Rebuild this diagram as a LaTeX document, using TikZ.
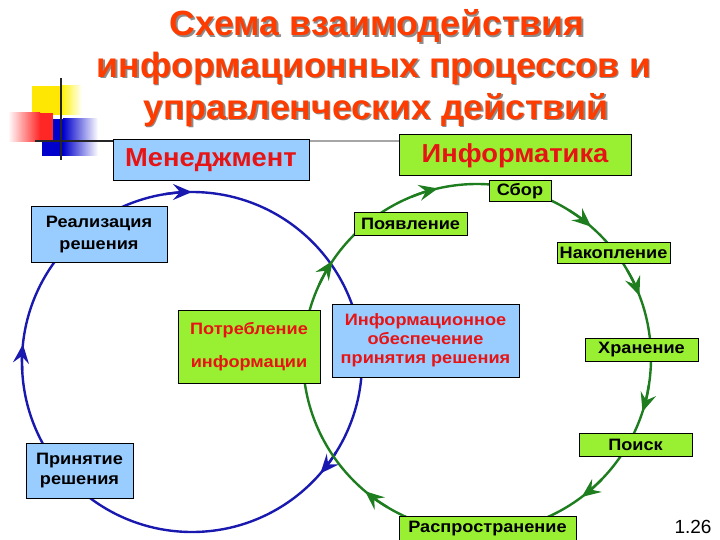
\documentclass[tikz,border=0pt]{standalone}
\usepackage{fontspec}
\setmainfont{Liberation Sans}
\newfontfamily\lblfont[FakeStretch=1.1]{Liberation Sans}
\newfontfamily\hdfont[FakeStretch=1.05]{Liberation Sans}
\newfontfamily\ttlfont[FakeStretch=1.02]{Liberation Sans}
\usetikzlibrary{arrows.meta}
\definecolor{titlered}{RGB}{255,60,0}
\definecolor{txtred}{RGB}{230,20,20}
\definecolor{boxblue}{RGB}{153,204,255}
\definecolor{boxgreen}{RGB}{153,240,51}
\definecolor{cblue}{RGB}{25,25,175}
\definecolor{cgreen}{RGB}{30,125,30}
\tikzset{
  box/.style={draw=black, line width=1pt, inner sep=0pt, align=center, font=\lblfont\bfseries\fontsize{16.5}{20}\selectfont},
  bluebox/.style={box, fill=boxblue},
  greenbox/.style={box, fill=boxgreen},
  hdbox/.style={text=txtred, font=\hdfont\bfseries\fontsize{26}{30}\selectfont},
  ring/.style={line width=2.4pt, line cap=round},
  ringtip/.tip={Stealth[length=19pt, width=16pt, inset=7pt]},
  titletxt/.style={font=\ttlfont\bfseries\fontsize{35}{40}\selectfont, text=titlered},
}
\begin{document}
\begin{tikzpicture}[x=1pt,y=-1pt]
\useasboundingbox (0,0) rectangle (720,540);
% decoration
\fill[yellow!90!orange] (32,86) rectangle (61,115);
\shade[left color=yellow!90!orange, right color=white] (61,86) rectangle (82,115);
\shade[left color=white, right color=red!85] (8,113) rectangle (40,142);
\fill[red!85] (40,113) rectangle (53,142);
\fill[blue!80!black] (42,119) rectangle (63,156);
\shade[left color=blue!80!black, right color=white] (63,119) rectangle (98,156);
\fill[red!85] (40,119) rectangle (53,142);
\draw[line width=2pt, black!85] (61,78) -- (61,160);
\draw[line width=2pt, black!85] (35,141) -- (113,141);
\draw[line width=2pt, black!35] (113,141) -- (400,141);
% title
\foreach \dx/\col in {1.5/black!45, 0/titlered}{
  \node[titletxt, text=\col] at (377+\dx,26+\dx) {Схема взаимодействия};
  \node[titletxt, text=\col] at (374+\dx,68+\dx) {информационных процессов и};
  \node[titletxt, text=\col] at (376+\dx,110+\dx) {управленческих действий};
}
% circles
\coordinate (bc) at (192,362);
\coordinate (gc) at (477,358);
\draw[ring, cblue] (bc) circle[radius=170];
\foreach \a in {270, 41, 186}{
  \draw[ring, cblue, -{ringtip}] (bc) ++(\a-9:170) arc[start angle=\a-9, end angle=\a, radius=170];
}
\draw[ring, cgreen] (gc) circle[radius=174];
\foreach \a in {257, 311, 339, 18, 53, 130, 214}{
  \draw[ring, cgreen, -{ringtip}] (gc) ++(\a-9:174) arc[start angle=\a-9, end angle=\a, radius=174];
}
% boxes
\node[bluebox, hdbox, minimum width=196pt, minimum height=41pt] (mgmt) at (211,160.5) {Менеджмент};
\node[greenbox, hdbox, minimum width=232pt, minimum height=41pt] (inf) at (515,155.5) {Информатика};
\node[greenbox, minimum width=62pt, minimum height=21pt] (sbor) at (520,191.5) {Сбор};
\node[greenbox, minimum width=113pt, minimum height=22pt] (poyav) at (410.5,224) {Появление};
\node[greenbox, minimum width=113pt, minimum height=21pt] (nakop) at (613.5,252.5) {Накопление};
\node[bluebox, minimum width=136pt, minimum height=55pt, font=\lblfont\bfseries\fontsize{16.5}{22}\selectfont] (realiz) at (99,234.5) {Реализация\\решения};
\node[greenbox, minimum width=142pt, minimum height=73pt, text=txtred, font=\lblfont\bfseries\fontsize{16.5}{33}\selectfont] (potreb) at (249,346.5) {Потребление\\информации};
\node[bluebox, minimum width=187pt, minimum height=73pt, text=txtred, font=\lblfont\bfseries\fontsize{16.5}{19}\selectfont] (infob) at (425.5,340.5) {Информационное\\обеспечение\\принятия решения};
\node[greenbox, minimum width=113pt, minimum height=23pt] (hran) at (641.5,349.5) {Хранение};
\node[greenbox, minimum width=113pt, minimum height=23pt] (poisk) at (635.5,444.5) {Поиск};
\node[bluebox, minimum width=107pt, minimum height=55pt, font=\lblfont\bfseries\fontsize{16.5}{20}\selectfont] (prin) at (79.5,470.5) {Принятие\\решения};
\node[greenbox, minimum width=177pt, minimum height=26pt] (rasp) at (487.5,529) {Распространение};
\node[font=\fontsize{19}{22}\selectfont] (num) at (693,527) {1.26};
\end{tikzpicture}
\end{document}
